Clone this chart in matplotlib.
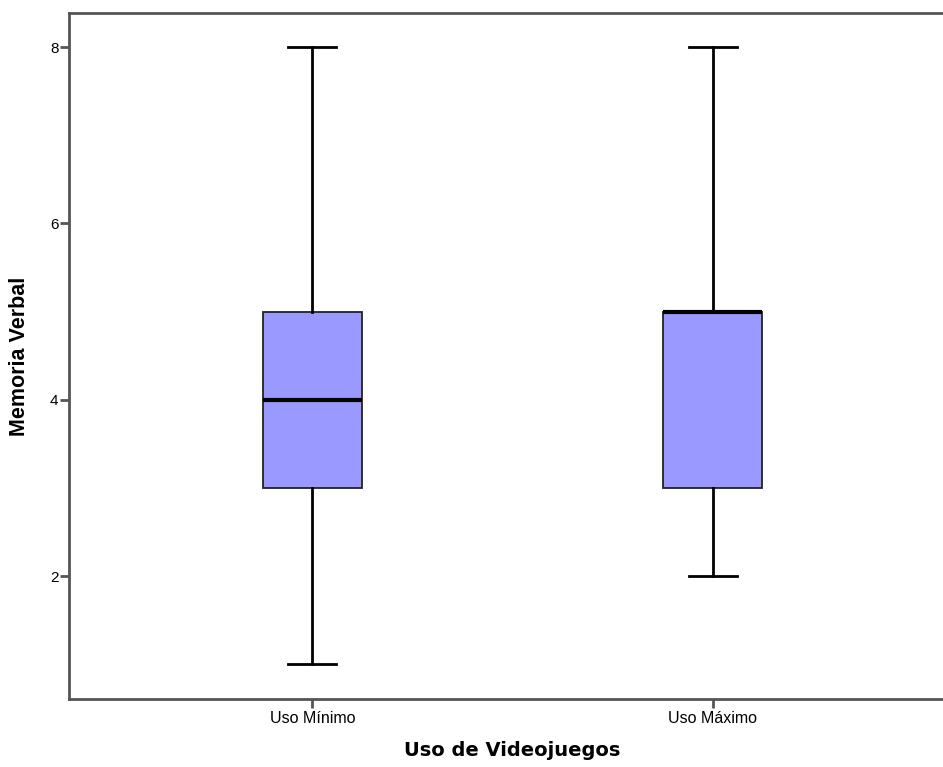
import matplotlib
matplotlib.use("Agg")
import matplotlib.pyplot as plt

plt.rcParams['font.family'] = ['Liberation Sans', 'DejaVu Sans']

# --- data ---
groups = ["Uso Mínimo", "Uso Máximo"]
whislo = [1, 2]
q1 = [3, 3]
med = [4, 5]
q3 = [5, 5]
whishi = [8, 8]
yticks = [2, 4, 6, 8]

stats = []
for i, g in enumerate(groups):
    stats.append(dict(label=g, whislo=whislo[i], q1=q1[i], med=med[i],
                      q3=q3[i], whishi=whishi[i], fliers=[]))

fig = plt.figure(figsize=(9.43, 7.67), dpi=100)
W, H = 943, 767
# axes extends past the right edge (cropped like the original)
ax = fig.add_axes([69 / W, 1 - 699 / H, (956 - 69) / W, (699 - 13) / H])

ax.bxp(stats, positions=[1, 2], widths=0.247, patch_artist=True,
       showfliers=False,
       boxprops=dict(facecolor="#9999ff", edgecolor="#222222", linewidth=1.3),
       medianprops=dict(color="black", linewidth=3),
       whiskerprops=dict(color="black", linewidth=2),
       capprops=dict(color="black", linewidth=2),
       capwidths=0.12)

ax.set_xlim(0.392, 2.608)
ax.set_ylim(0.605, 8.386)
ax.set_yticks(yticks)
ax.set_yticklabels([str(v) for v in yticks], fontsize=11)
ax.set_xticks([1, 2])
ax.set_xticklabels(groups, fontsize=11.5)

for side in ["left", "bottom", "top", "right"]:
    ax.spines[side].set_color("#555555")
    ax.spines[side].set_linewidth(2)
ax.tick_params(axis="both", color="#555555", width=2, length=6.5)
ax.tick_params(axis="y", pad=1)
ax.tick_params(axis="x", pad=2)

ax.set_ylabel("Memoria Verbal", fontsize=15.5, fontweight="bold")
ax.yaxis.set_label_coords((30 - 69) / 887, 0.5)
ax.set_xlabel("Uso de Videojuegos", fontsize=14, fontweight="bold",
              family="DejaVu Sans")
ax.xaxis.set_label_coords(0.5, -(741 - 699) / 686)

fig.savefig("out.png", dpi=100)
